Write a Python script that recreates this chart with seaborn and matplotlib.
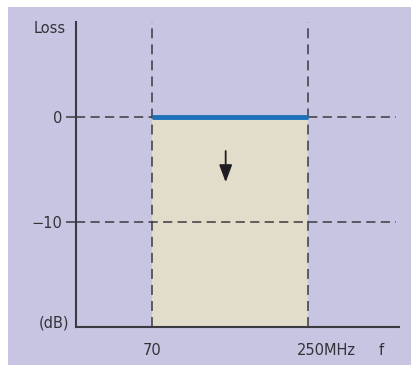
import pandas as pd
import matplotlib.pyplot as plt
import seaborn as sns
from matplotlib.patches import Rectangle

# Band limits (MHz) and loss levels (dB)
band_edges = [70, 250]
band_loss = [0, 0]
ref_levels = [0, -10]
ytick_labels = ["0", "\u221210"]
arrow_x = 155
arrow_from = -3.0
arrow_to = -6.5

bg = "#c8c5e2"
fill = "#e2dccb"
blue = "#1b72b9"
ink = "#3a3a40"
txt = "#333338"
fs = 10.5

sns.set_theme(style="ticks")
plt.rcParams["font.family"] = ["DejaVu Sans"]

fig = plt.figure(figsize=(4.11, 3.65), dpi=100, facecolor="white")
fig.patches.append(Rectangle((8 / 411, 0), 403 / 411, 358 / 365,
                             transform=fig.transFigure, facecolor=bg,
                             edgecolor="none", zorder=-10))
ax = fig.add_axes([76 / 411, 38 / 365, 323 / 411, 305 / 365])
ax.set_facecolor("none")

ax.set_xlim(-17.7, 355)
ax.set_ylim(-20, 9)

# passband fill
ax.fill_between(band_edges, [-20, -20], band_loss, color=fill, lw=0, zorder=1)

# dashed reference lines
for lv in ref_levels:
    ax.plot([-17.7, 352], [lv, lv], ls=(0, (6, 3.5)), color=ink, lw=1.1, zorder=2)
for fx in band_edges:
    ax.plot([fx, fx], [-20, 9], ls=(0, (6.5, 4)), color=ink, lw=1.1, zorder=2)

# loss line
df = pd.DataFrame({"f": band_edges, "loss": band_loss})
sns.lineplot(data=df, x="f", y="loss", color=blue, lw=3.5, ax=ax, zorder=3,
             solid_capstyle="butt")

ax.annotate("", xy=(arrow_x, arrow_to), xytext=(arrow_x, arrow_from),
            arrowprops=dict(arrowstyle="-|>,head_length=0.75,head_width=0.28",
                            color="#1e1e22", lw=1.3, mutation_scale=14),
            zorder=4)

for s in ["top", "right"]:
    ax.spines[s].set_visible(False)
for s in ["left", "bottom"]:
    ax.spines[s].set_color(ink)
    ax.spines[s].set_linewidth(1.5)

ax.set_yticks(ref_levels)
ax.set_yticklabels(ytick_labels, fontsize=fs, color=txt)
ax.tick_params(axis="y", length=7, width=1.1, color=ink, pad=3)
ax.set_xticks([])
ax.set_xlabel("")
ax.set_ylabel("")

ax.text(-0.031, 0.98, "Loss", transform=ax.transAxes, ha="right", va="center",
        fontsize=fs, color=txt)
ax.text(-0.02, 0.013, "(dB)", transform=ax.transAxes, ha="right", va="center",
        fontsize=fs, color=txt)
ax.text(70, -22.2, "70", ha="center", va="center", fontsize=fs, color=txt)
ax.text(237, -22.2, "250MHz", ha="left", va="center", fontsize=fs, color=txt)
ax.text(334, -22.2, "f", ha="center", va="center", fontsize=fs, color=txt)

fig.savefig("out.png", dpi=100, facecolor="white")
